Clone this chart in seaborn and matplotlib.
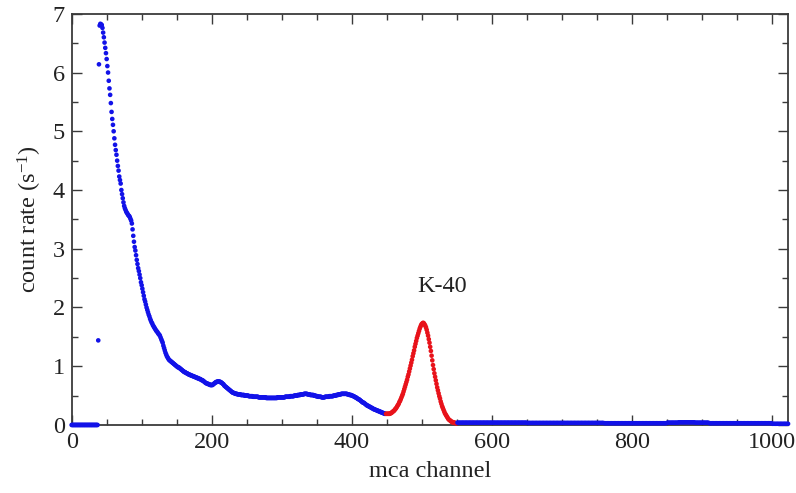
import numpy as np
import pandas as pd
import matplotlib
matplotlib.use("Agg")
import matplotlib.pyplot as plt
from matplotlib.ticker import MultipleLocator
import seaborn as sns

# ---------------- data ----------------
zero_start = 0
zero_rates = [
    0.0, 0.0, 0.0, 0.0, 0.0, 0.0, 0.0, 0.0, 0.0, 0.0,
    0.0, 0.0, 0.0, 0.0, 0.0, 0.0, 0.0, 0.0, 0.0, 0.0,
    0.0, 0.0, 0.0, 0.0, 0.0, 0.0, 0.0, 0.0, 0.0, 0.0,
    0.0, 0.0, 0.0, 0.0, 0.0, 0.0, 0.0, 0.0,
]

low_start = 38
low_rates = [
    1.44, 6.14, 6.80, 6.83, 6.82, 6.81, 6.76, 6.68, 6.60, 6.51,   # 38
    6.42, 6.33, 6.23, 6.11, 6.00, 5.86, 5.73, 5.62, 5.48, 5.33,   # 48
    5.21, 5.11, 5.00, 4.88, 4.77, 4.68, 4.60, 4.50, 4.41, 4.33,   # 58
    4.23, 4.17, 4.11, 4.00, 3.93, 3.86, 3.79, 3.73, 3.69, 3.66,   # 68
    3.63, 3.61, 3.59, 3.57, 3.56, 3.54, 3.51, 3.48, 3.43, 3.33,   # 78
    3.22, 3.12, 3.03, 2.97, 2.89, 2.81, 2.74, 2.67, 2.62, 2.56,   # 88
    2.50, 2.43, 2.38, 2.32, 2.26, 2.20, 2.14, 2.10, 2.05, 2.00,   # 98
    1.96, 1.92, 1.88, 1.85, 1.81, 1.78, 1.75, 1.73, 1.70, 1.68,   # 108
    1.66, 1.64, 1.62, 1.60, 1.59, 1.57, 1.55, 1.54, 1.52, 1.49,   # 118
    1.46, 1.43, 1.40, 1.35, 1.31, 1.27, 1.23, 1.20, 1.17, 1.15,   # 128
    1.13, 1.11, 1.10, 1.09, 1.08, 1.07, 1.06, 1.05, 1.04, 1.03,   # 138
    1.02, 1.01, 1.00, 0.99, 0.98, 0.98, 0.97, 0.96, 0.95, 0.94,   # 148
    0.93, 0.92, 0.91, 0.90, 0.90, 0.89, 0.88, 0.88, 0.87, 0.86,   # 158
    0.86, 0.85, 0.85, 0.84, 0.84, 0.83, 0.83, 0.82, 0.82, 0.81,   # 168
    0.81, 0.80, 0.80, 0.79, 0.79, 0.78, 0.78, 0.77, 0.76, 0.76,   # 178
    0.75, 0.74, 0.73, 0.72, 0.71, 0.71, 0.70, 0.70, 0.69, 0.69,   # 188
    0.68, 0.68, 0.68, 0.68, 0.69, 0.70, 0.71, 0.72, 0.73, 0.73,   # 198
    0.74, 0.74, 0.74, 0.74, 0.73, 0.73, 0.72, 0.71, 0.70, 0.69,   # 208
    0.67, 0.66, 0.65, 0.64, 0.63, 0.62, 0.61, 0.60, 0.59, 0.58,   # 218
    0.57, 0.56, 0.55, 0.55, 0.54, 0.54, 0.53, 0.53, 0.53, 0.52,   # 228
    0.52, 0.52, 0.52, 0.52, 0.51, 0.51, 0.51, 0.51, 0.51, 0.50,   # 238
    0.50, 0.50, 0.50, 0.50, 0.50, 0.49, 0.49, 0.49, 0.49, 0.49,   # 248
    0.49, 0.48, 0.48, 0.48, 0.48, 0.48, 0.48, 0.48, 0.48, 0.47,   # 258
    0.47, 0.47, 0.47, 0.47, 0.47, 0.47, 0.47, 0.47, 0.47, 0.47,   # 268
    0.46, 0.46, 0.46, 0.46, 0.46, 0.46, 0.46, 0.46, 0.46, 0.46,   # 278
    0.46, 0.46, 0.46, 0.46, 0.46, 0.46, 0.47, 0.47, 0.47, 0.47,   # 288
    0.47, 0.47, 0.47, 0.47, 0.47, 0.47, 0.47, 0.48, 0.48, 0.48,   # 298
    0.48, 0.48, 0.48, 0.48, 0.49, 0.49, 0.49, 0.49, 0.49, 0.49,   # 308
    0.50, 0.50, 0.50, 0.50, 0.50, 0.51, 0.51, 0.51, 0.51, 0.52,   # 318
    0.52, 0.52, 0.52, 0.52, 0.53, 0.53, 0.53, 0.53, 0.53, 0.52,   # 328
    0.52, 0.52, 0.52, 0.51, 0.51, 0.51, 0.51, 0.51, 0.50, 0.50,   # 338
    0.50, 0.49, 0.49, 0.49, 0.48, 0.48, 0.48, 0.48, 0.48, 0.47,   # 348
    0.47, 0.47, 0.47, 0.47, 0.48, 0.48, 0.48, 0.48, 0.48, 0.48,   # 358
    0.49, 0.49, 0.49, 0.49, 0.49, 0.49, 0.50, 0.50, 0.50, 0.50,   # 368
    0.51, 0.51, 0.51, 0.52, 0.52, 0.52, 0.52, 0.53, 0.53, 0.53,   # 378
    0.53, 0.53, 0.53, 0.53, 0.53, 0.53, 0.52, 0.52, 0.52, 0.51,   # 388
    0.51, 0.51, 0.50, 0.50, 0.49, 0.49, 0.48, 0.47, 0.47, 0.46,   # 398
    0.45, 0.44, 0.44, 0.43, 0.42, 0.41, 0.40, 0.39, 0.38, 0.38,   # 408
    0.37, 0.36, 0.35, 0.34, 0.33, 0.33, 0.32, 0.31, 0.31, 0.30,   # 418
    0.29, 0.29, 0.28, 0.27, 0.27, 0.26, 0.26, 0.25, 0.25, 0.24,   # 428
    0.24, 0.23, 0.23, 0.22, 0.22, 0.21, 0.21, 0.20, 0.20, 0.19,   # 438
    0.19,                                                         # 448
]

k40_start = 449
k40_rates = [
    0.19, 0.19, 0.19, 0.19, 0.19, 0.19, 0.20, 0.20, 0.21, 0.22,   # 449
    0.23, 0.24, 0.25, 0.27, 0.28, 0.30, 0.32, 0.34, 0.36, 0.39,   # 459
    0.41, 0.44, 0.47, 0.50, 0.53, 0.57, 0.61, 0.65, 0.69, 0.73,   # 469
    0.77, 0.82, 0.86, 0.91, 0.96, 1.01, 1.06, 1.11, 1.17, 1.22,   # 479
    1.27, 1.33, 1.38, 1.43, 1.48, 1.52, 1.56, 1.60, 1.64, 1.67,   # 489
    1.70, 1.72, 1.73, 1.74, 1.73, 1.71, 1.69, 1.66, 1.62, 1.57,   # 499
    1.52, 1.46, 1.40, 1.33, 1.26, 1.18, 1.10, 1.02, 0.95, 0.88,   # 509
    0.82, 0.76, 0.70, 0.64, 0.59, 0.54, 0.49, 0.45, 0.40, 0.36,   # 519
    0.32, 0.29, 0.26, 0.23, 0.20, 0.18, 0.16, 0.14, 0.12, 0.10,   # 529
    0.09, 0.08, 0.07, 0.06, 0.05, 0.05, 0.04, 0.04, 0.04, 0.03,   # 539
    0.03, 0.03,                                                   # 549
]

tail_start = 551
tail_step = 2
tail_rates = [
    0.04, 0.04, 0.04, 0.04, 0.04, 0.04, 0.04, 0.04, 0.04, 0.04,
    0.04, 0.04, 0.04, 0.04, 0.04, 0.04, 0.04, 0.04, 0.04, 0.04,
    0.04, 0.04, 0.04, 0.04, 0.04, 0.04, 0.04, 0.04, 0.04, 0.04,
    0.04, 0.04, 0.04, 0.04, 0.04, 0.04, 0.04, 0.04, 0.04, 0.04,
    0.04, 0.04, 0.04, 0.04, 0.04, 0.04, 0.04, 0.04, 0.04, 0.04,
    0.035, 0.035, 0.035, 0.035, 0.035, 0.035, 0.035, 0.035, 0.035, 0.035,
    0.035, 0.035, 0.035, 0.035, 0.035, 0.035, 0.035, 0.035, 0.035, 0.035,
    0.035, 0.035, 0.035, 0.035, 0.035, 0.035, 0.035, 0.035, 0.035, 0.035,
    0.035, 0.035, 0.035, 0.035, 0.035, 0.035, 0.035, 0.035, 0.035, 0.035,
    0.035, 0.035, 0.035, 0.035, 0.035, 0.035, 0.035, 0.035, 0.035, 0.035,
    0.035, 0.035, 0.035, 0.035, 0.035,
    0.03, 0.03, 0.03, 0.03, 0.03, 0.03, 0.03, 0.03, 0.03, 0.03,
    0.03, 0.03, 0.03, 0.03, 0.03, 0.03, 0.03, 0.03, 0.03, 0.03,
    0.03, 0.03, 0.03, 0.03, 0.03, 0.03, 0.03, 0.03, 0.03, 0.03,
    0.03, 0.03, 0.03, 0.03, 0.03, 0.03, 0.03, 0.03, 0.03, 0.03,
    0.03, 0.03, 0.03, 0.03, 0.03,
    0.04, 0.04, 0.04, 0.04, 0.04, 0.04, 0.04, 0.04, 0.045, 0.045,
    0.045, 0.045, 0.045, 0.045, 0.045, 0.045, 0.045, 0.045, 0.045, 0.045,
    0.04, 0.04, 0.04, 0.04, 0.04, 0.04, 0.04, 0.04, 0.04, 0.04,
    0.03, 0.03, 0.03, 0.03, 0.03, 0.03, 0.03, 0.03, 0.03, 0.03,
    0.03, 0.03, 0.03, 0.03, 0.03, 0.03, 0.03, 0.03, 0.03, 0.03,
    0.03, 0.03, 0.03, 0.03, 0.03, 0.03, 0.03, 0.03, 0.03, 0.03,
    0.03, 0.03, 0.03, 0.03, 0.03, 0.03, 0.03, 0.03, 0.03, 0.03,
    0.03, 0.03, 0.03, 0.03, 0.03,
    0.02, 0.02, 0.02, 0.02, 0.02, 0.02, 0.02, 0.02, 0.02, 0.02,
    0.02, 0.02,
]

peak_label = "K-40"
peak_label_channel = 529
peak_label_rate = 2.35

x_label = "mca channel"
y_label = "count rate (s$^{-1}$)"

# ---------------- build table ----------------
def segment(start, rates, region, step=1):
    ch = start + step * np.arange(len(rates))
    return pd.DataFrame({"channel": ch, "rate": rates, "region": region})

df = pd.concat([
    segment(zero_start, zero_rates, "background"),
    segment(low_start, low_rates, "background"),
    segment(k40_start, k40_rates, "K-40"),
    segment(tail_start, tail_rates, "background", tail_step),
], ignore_index=True)

# ---------------- style ----------------
sns.set_theme(style="ticks")
plt.rcParams["font.family"] = ["Liberation Serif", "DejaVu Serif"]
plt.rcParams["mathtext.fontset"] = "custom"
plt.rcParams["mathtext.rm"] = "Liberation Serif"
plt.rcParams["mathtext.it"] = "Liberation Serif:italic"

fig = plt.figure(figsize=(7.96, 4.93), dpi=100)
ax = fig.add_axes([0.090, 0.138, 0.900, 0.834])

palette = {"background": "#1212e8", "K-40": "#e8121a"}
sns.scatterplot(data=df, x="channel", y="rate", hue="region", palette=palette,
                s=11, linewidth=0, legend=False, ax=ax, zorder=3)
for coll in ax.collections:
    coll.set_clip_on(False)

ax.set_xlim(0, 1023)
ax.set_ylim(0, 7)
ax.xaxis.set_major_locator(MultipleLocator(200))
ax.xaxis.set_minor_locator(MultipleLocator(50))
ax.yaxis.set_major_locator(MultipleLocator(1))
ax.yaxis.set_minor_locator(MultipleLocator(0.5))

edge = "#3a3a3a"
for sp in ax.spines.values():
    sp.set_visible(True)
    sp.set_color(edge)
    sp.set_linewidth(1.3)

ax.tick_params(which="both", direction="in", top=True, right=True,
               color=edge, width=1.0)
ax.tick_params(which="major", length=7, labelsize=17.5, pad=5, labelcolor="#222222")
ax.tick_params(which="minor", length=4)

ax.set_xlabel(x_label, fontsize=17.5, color="#222222", labelpad=6)
ax.set_ylabel(y_label, fontsize=17.5, color="#222222", labelpad=6)

ax.text(peak_label_channel, peak_label_rate, peak_label, fontsize=17.5,
        ha="center", va="center", color="#222222")

fig.savefig("out.png", dpi=100)
